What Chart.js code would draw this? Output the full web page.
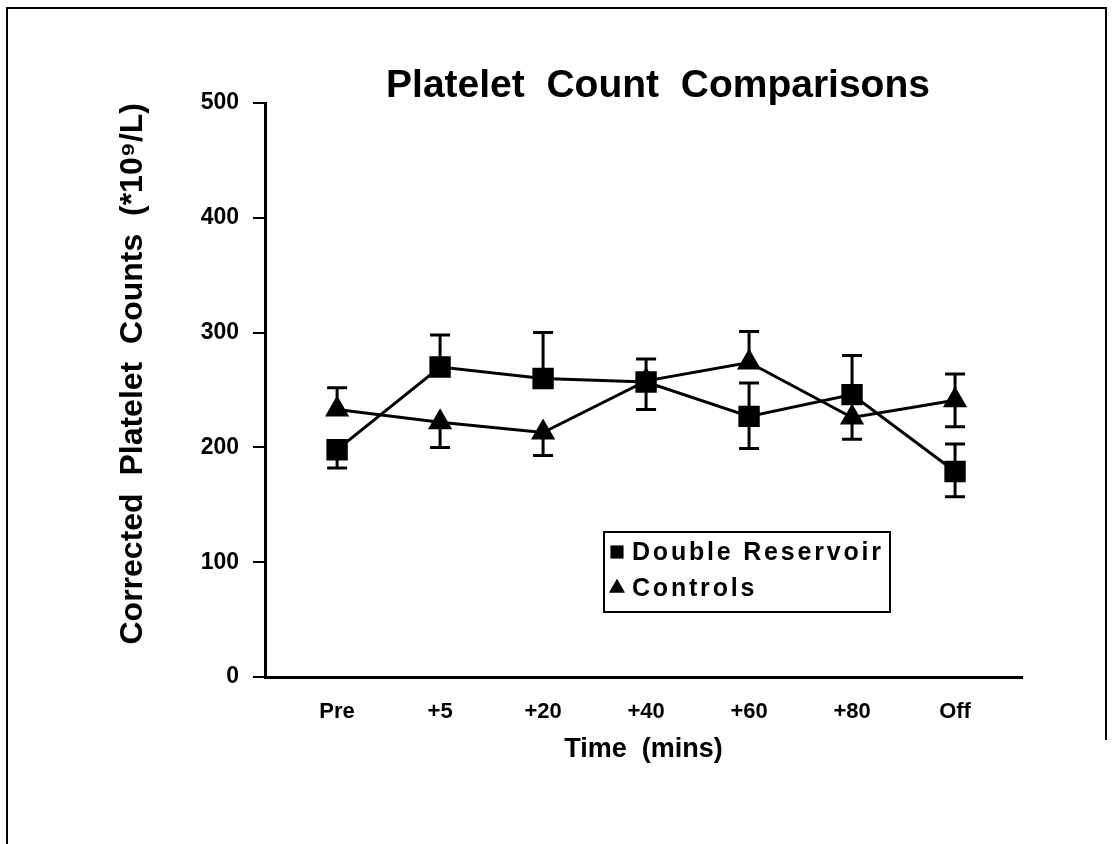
<!DOCTYPE html>
<html>
<head>
<meta charset="utf-8">
<script src="https://cdn.jsdelivr.net/npm/chart.js@4/dist/chart.umd.min.js"></script>
<style>
  html, body { margin: 0; padding: 0; background: #fff; }
  #wrap { position: relative; width: 1114px; height: 844px; }
</style>
</head>
<body>
<div id="wrap"><canvas id="chart" width="1114" height="844"></canvas></div>
<script>
const timePoints = ['Pre', '+5', '+20', '+40', '+60', '+80', 'Off'];

const doubleReservoir = [198, 270, 260, 257, 227, 246, 179];
const doubleUp = [0, 28, 40, 20, 29, 34, 24];
const doubleDown = [16, 0, 0, 0, 28, 0, 22];

const controls = [233, 222, 213, 258, 274, 226, 241];
const controlsUp = [19, 0, 0, 0, 27, 0, 23];
const controlsDown = [0, 22, 20, 25, 0, 19, 23];

const yTicks = [0, 100, 200, 300, 400, 500];

const FONT = "'Liberation Sans', Arial, sans-serif";

// error bars: one-sided where the other series would hide them
const errorBars = {
  id: 'errorBars',
  afterDatasetsDraw(chart) {
    const ctx = chart.ctx;
    const y = chart.scales.y;
    ctx.save();
    ctx.strokeStyle = '#000';
    ctx.lineWidth = 3;
    chart.data.datasets.forEach((ds, di) => {
      const meta = chart.getDatasetMeta(di);
      meta.data.forEach((pt, i) => {
        const v = ds.data[i].y;
        [[ds.errUp[i], 1], [ds.errDown[i], -1]].forEach(([e, dir]) => {
          if (!e) return;
          const yEnd = y.getPixelForValue(v + dir * e);
          ctx.beginPath();
          ctx.moveTo(pt.x, pt.y);
          ctx.lineTo(pt.x, yEnd);
          ctx.moveTo(pt.x - 10, yEnd);
          ctx.lineTo(pt.x + 10, yEnd);
          ctx.stroke();
        });
      });
    });
    ctx.restore();
  }
};

// boxed legend sitting inside the plot, plus the main title
const boxLegend = {
  id: 'boxLegend',
  afterDraw(chart) {
    const ctx = chart.ctx;
    const left = 604, top = 532, w = 286, h = 80;
    ctx.save();
    ctx.fillStyle = '#000';
    ctx.font = 'bold 39px ' + FONT;
    ctx.textAlign = 'center';
    ctx.textBaseline = 'middle';
    ctx.fillText('Platelet  Count  Comparisons', 658, 86);

    ctx.fillStyle = '#fff';
    ctx.fillRect(left, top, w, h);
    ctx.strokeStyle = '#000';
    ctx.lineWidth = 2;
    ctx.strokeRect(left, top, w, h);
    ctx.font = 'bold 25px ' + FONT;
    ctx.letterSpacing = '2.8px';
    ctx.textAlign = 'left';
    ctx.fillStyle = '#000';
    chart.data.datasets.forEach((ds, i) => {
      const cy = top + 20 + i * 36;
      Chart.helpers.drawPoint(ctx, {pointStyle: ds.pointStyle, radius: 9, borderWidth: 0}, 617, cy);
      ctx.fill();
      ctx.fillText(ds.label, 632, cy + 1);
    });
    ctx.restore();
  }
};

// outer frame around the figure
const frame = {
  id: 'frame',
  beforeDraw(chart) {
    const ctx = chart.ctx;
    ctx.save();
    ctx.strokeStyle = '#000';
    ctx.lineWidth = 2;
    ctx.beginPath();
    ctx.moveTo(7, 844);
    ctx.lineTo(7, 8);
    ctx.lineTo(1106, 8);
    ctx.lineTo(1106, 740);
    ctx.stroke();
    ctx.restore();
  }
};

new Chart(document.getElementById('chart'), {
  type: 'line',
  data: {
    datasets: [
      {
        label: 'Double Reservoir',
        data: doubleReservoir.map((v, i) => ({x: i, y: v})),
        errUp: doubleUp,
        errDown: doubleDown,
        borderColor: '#000',
        backgroundColor: '#000',
        borderWidth: 3,
        pointStyle: 'rect',
        pointRadius: 13,
        tension: 0
      },
      {
        label: 'Controls',
        data: controls.map((v, i) => ({x: i, y: v})),
        errUp: controlsUp,
        errDown: controlsDown,
        borderColor: '#000',
        backgroundColor: '#000',
        borderWidth: 3,
        pointStyle: 'triangle',
        pointRadius: 11,
        tension: 0
      }
    ]
  },
  options: {
    responsive: false,
    animation: false,
    layout: { padding: { left: 0, right: 92, bottom: 0, top: 103 } },
    plugins: {
      legend: { display: false },
      tooltip: { enabled: false },
      title: { display: false }
    },
    scales: {
      x: {
        type: 'linear',
        min: -0.7,
        max: 6.65,
        afterBuildTicks: s => { s.ticks = timePoints.map((t, i) => ({value: i})); },
        afterFit: s => { s.height = 167; },
        grid: { display: false },
        border: { display: true, color: '#000', width: 3 },
        ticks: {
          color: '#000',
          padding: 14,
          font: { family: FONT, size: 22, weight: 'bold' },
          callback: v => timePoints[v]
        },
        title: {
          display: true,
          text: 'Time  (mins)',
          color: '#000',
          font: { family: FONT, size: 27, weight: 'bold' },
          padding: { bottom: 78 }
        }
      },
      y: {
        min: 0,
        max: 500,
        afterBuildTicks: s => { s.ticks = yTicks.map(v => ({value: v})); },
        afterFit: s => { s.width = 265; },
        grid: { drawOnChartArea: false, color: '#000', lineWidth: 2, tickLength: 12 },
        border: { display: true, color: '#000', width: 3 },
        ticks: {
          color: '#000',
          padding: 14,
          font: { family: FONT, size: 23, weight: 'bold' }
        },
        title: {
          display: true,
          align: 'end',
          text: 'Corrected  Platelet  Counts  (*10⁹/L)',
          color: '#000',
          font: { family: FONT, size: 32, weight: 'bold' },
          padding: { top: 114 }
        }
      }
    }
  },
  plugins: [frame, errorBars, boxLegend]
});
</script>
</body>
</html>
